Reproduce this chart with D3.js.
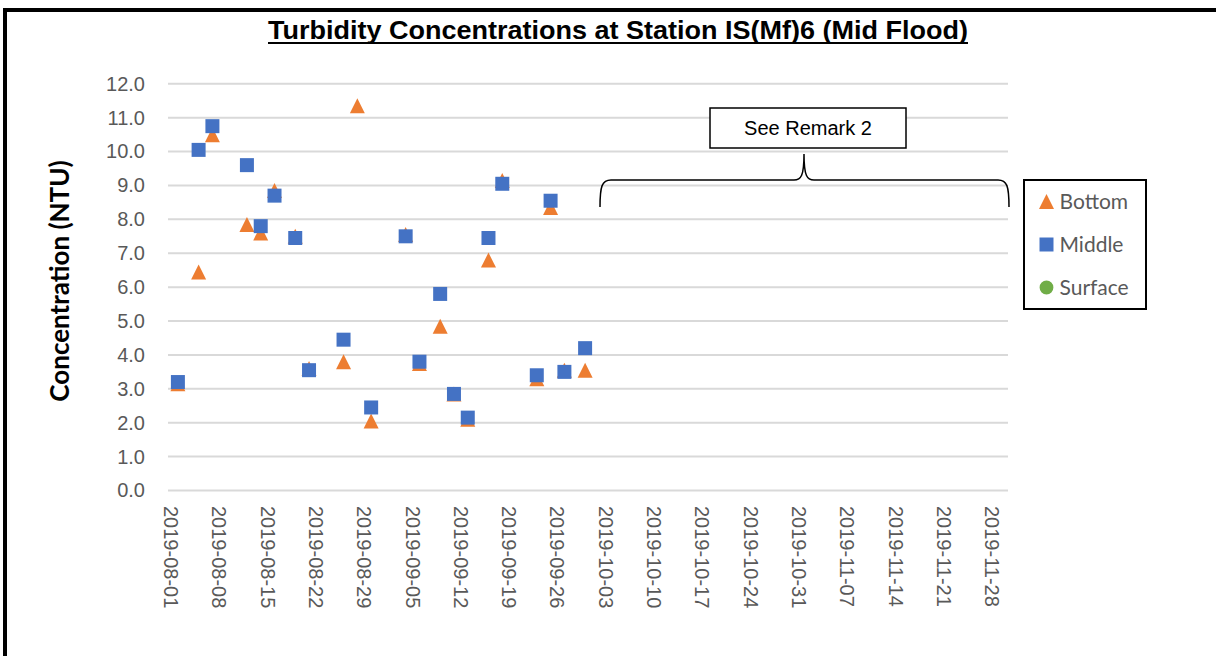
<!DOCTYPE html>
<html>
<head>
<meta charset="utf-8">
<script src="https://cdn.jsdelivr.net/npm/d3@7"></script>
<style>
  body { margin: 0; background: #fff; }
  svg { display: block; }
</style>
</head>
<body>
<div id="chart"></div>
<script>
// sampling dates (Mon / Wed / Fri)
const dates = ["2019-08-02", "2019-08-05", "2019-08-07", "2019-08-12", "2019-08-14", "2019-08-16",
    "2019-08-19", "2019-08-21", "2019-08-26", "2019-08-28", "2019-08-30", "2019-09-04",
    "2019-09-06", "2019-09-09", "2019-09-11", "2019-09-13", "2019-09-16", "2019-09-18",
    "2019-09-23", "2019-09-25", "2019-09-27", "2019-09-30"];

const bottom = [3.15, 6.45, 10.5, 7.85, 7.6, 8.85, 7.5, 3.6, 3.8, 11.35, 2.05, 7.55,
    3.75, 4.85, 2.85, 2.1, 6.8, 9.15, 3.3, 8.35, 3.55, 3.55];
const middle = [3.2, 10.05, 10.75, 9.6, 7.8, 8.7, 7.45, 3.55, 4.45, null, 2.45, 7.5,
    3.8, 5.8, 2.85, 2.15, 7.45, 9.05, 3.4, 8.55, 3.5, 4.2];
const surface = []; // no surface readings

const yTicks = [0, 1, 2, 3, 4, 5, 6, 7, 8, 9, 10, 11, 12];
const xTickLabels = ["2019-08-01", "2019-08-08", "2019-08-15", "2019-08-22", "2019-08-29",
    "2019-09-05", "2019-09-12", "2019-09-19", "2019-09-26", "2019-10-03", "2019-10-10",
    "2019-10-17", "2019-10-24", "2019-10-31", "2019-11-07", "2019-11-14", "2019-11-21", "2019-11-28"];

const seriesNames = ["Bottom", "Middle", "Surface"];
const colors = { Bottom: "#ED7D31", Middle: "#4472C4", Surface: "#70AD47" };

const width = 1216, height = 656;
const plot = { left: 168, right: 1008 };
const parse = d3.utcParse("%Y-%m-%d");

let svg = d3.select("#chart")
    .append("svg")
    .attr("width", width)
    .attr("height", height)
    .style("background", "#fff");

// outer frame
svg.append("path")
    .attr("d", `M5,${height + 5} L5,10 L${width + 5},10`)
    .attr("fill", "none")
    .attr("stroke", "#000")
    .attr("stroke-width", 4);

// scales
let xScale = d3.scaleUtc()
    .domain([parse("2019-08-01"), parse("2019-12-01")])
    .range([171, 1013]);

let yScale = d3.scaleLinear()
    .domain([0, 12])
    .range([490.5, 83.8]);

// gridlines
svg.append("g")
    .selectAll("line")
    .data(yTicks)
    .enter()
    .append("line")
    .attr("x1", plot.left)
    .attr("x2", plot.right)
    .attr("y1", d => yScale(d))
    .attr("y2", d => yScale(d))
    .attr("stroke", "#d9d9d9")
    .attr("stroke-width", 2);

// y axis labels
let yAxis = svg.append("g")
    .attr("transform", "translate(150,0)")
    .call(d3.axisLeft(yScale).tickValues(yTicks).tickFormat(d3.format(".1f")).tickSize(0).tickPadding(5));
yAxis.select(".domain").remove();
yAxis.selectAll("text")
    .style("font-family", "'Liberation Sans', Arial, sans-serif")
    .style("font-size", "20px")
    .attr("fill", "#595959");

// x axis labels (rotated, reading downwards)
svg.append("g")
    .selectAll("text")
    .data(xTickLabels)
    .enter()
    .append("text")
    .attr("transform", d => `translate(${xScale(parse(d))},506) rotate(90)`)
    .attr("dy", "0.35em")
    .style("font-family", "'Liberation Sans', Arial, sans-serif")
    .style("font-size", "20px")
    .attr("fill", "#595959")
    .text(d => d);

// y axis title
svg.append("text")
    .attr("transform", "translate(69,281) rotate(-90)")
    .attr("text-anchor", "middle")
    .style("font-family", "Lato, 'Open Sans', sans-serif")
    .style("font-weight", "bold")
    .style("font-size", "26px")
    .attr("fill", "#000")
    .text("Concentration (NTU)");

// title (narrow bold, squeezed to the width of the original)
svg.append("text")
    .attr("x", 268)
    .attr("y", 39)
    .attr("textLength", 700)
    .attr("lengthAdjust", "spacingAndGlyphs")
    .style("font-family", "'Liberation Sans', Arial, sans-serif")
    .style("font-weight", "bold")
    .style("font-size", "26px")
    .attr("fill", "#000")
    .text("Turbidity Concentrations at Station IS(Mf)6 (Mid Flood)");

svg.append("line")
    .attr("x1", 268)
    .attr("x2", 968)
    .attr("y1", 43)
    .attr("y2", 43)
    .attr("stroke", "#000")
    .attr("stroke-width", 2);

// markers
const triangle = {
    draw(ctx, size) {
        const h = Math.sqrt(size) / 2;
        ctx.moveTo(0, -h);
        ctx.lineTo(h, h);
        ctx.lineTo(-h, h);
        ctx.closePath();
    }
};
const shapes = {
    Bottom: d3.symbol().type(triangle).size(225),
    Middle: d3.symbol().type(d3.symbolSquare).size(196),
    Surface: d3.symbol().type(d3.symbolCircle).size(150)
};

const seriesData = {
    Bottom: bottom.map((v, i) => ({ date: parse(dates[i]), value: v })),
    Middle: middle.map((v, i) => ({ date: parse(dates[i]), value: v })),
    Surface: surface.map((v, i) => ({ date: parse(dates[i]), value: v }))
};

seriesNames.forEach(name => {
    svg.append("g")
        .selectAll("path")
        .data(seriesData[name].filter(d => d.value != null))
        .enter()
        .append("path")
        .attr("d", shapes[name])
        .attr("transform", d => `translate(${xScale(d.date)},${yScale(d.value)})`)
        .attr("fill", colors[name]);
});

// "See Remark 2" box and brace
svg.append("rect")
    .attr("x", 710)
    .attr("y", 108)
    .attr("width", 196)
    .attr("height", 40)
    .attr("fill", "#fff")
    .attr("stroke", "#000")
    .attr("stroke-width", 1.5);

svg.append("text")
    .attr("x", 808)
    .attr("y", 135)
    .attr("text-anchor", "middle")
    .style("font-family", "'Liberation Sans', Arial, sans-serif")
    .style("font-size", "20px")
    .attr("fill", "#000")
    .text("See Remark 2");

svg.append("path")
    .attr("d", "M600,207 C600,186 602,180 611,180 L794,180 C801,180 804,176 804,154 C804,176 807,180 814,180 L998,180 C1007,180 1009,186 1009,207")
    .attr("fill", "none")
    .attr("stroke", "#000")
    .attr("stroke-width", 1.5);

// legend
svg.append("rect")
    .attr("x", 1024)
    .attr("y", 180)
    .attr("width", 122)
    .attr("height", 129)
    .attr("fill", "#fff")
    .attr("stroke", "#000")
    .attr("stroke-width", 2);

const legend = svg.selectAll(".legend")
    .data(seriesNames)
    .enter().append("g")
    .attr("class", "legend")
    .attr("transform", (d, i) => `translate(1046.5,${201.5 + i * 43})`);

legend.append("path")
    .attr("d", d => shapes[d]())
    .attr("fill", d => colors[d]);

legend.append("text")
    .attr("x", 13)
    .attr("dy", "0.35em")
    .style("font-family", "Lato, 'Open Sans', sans-serif")
    .style("font-size", "21px")
    .attr("fill", "#595959")
    .text(d => d);
</script>
</body>
</html>
